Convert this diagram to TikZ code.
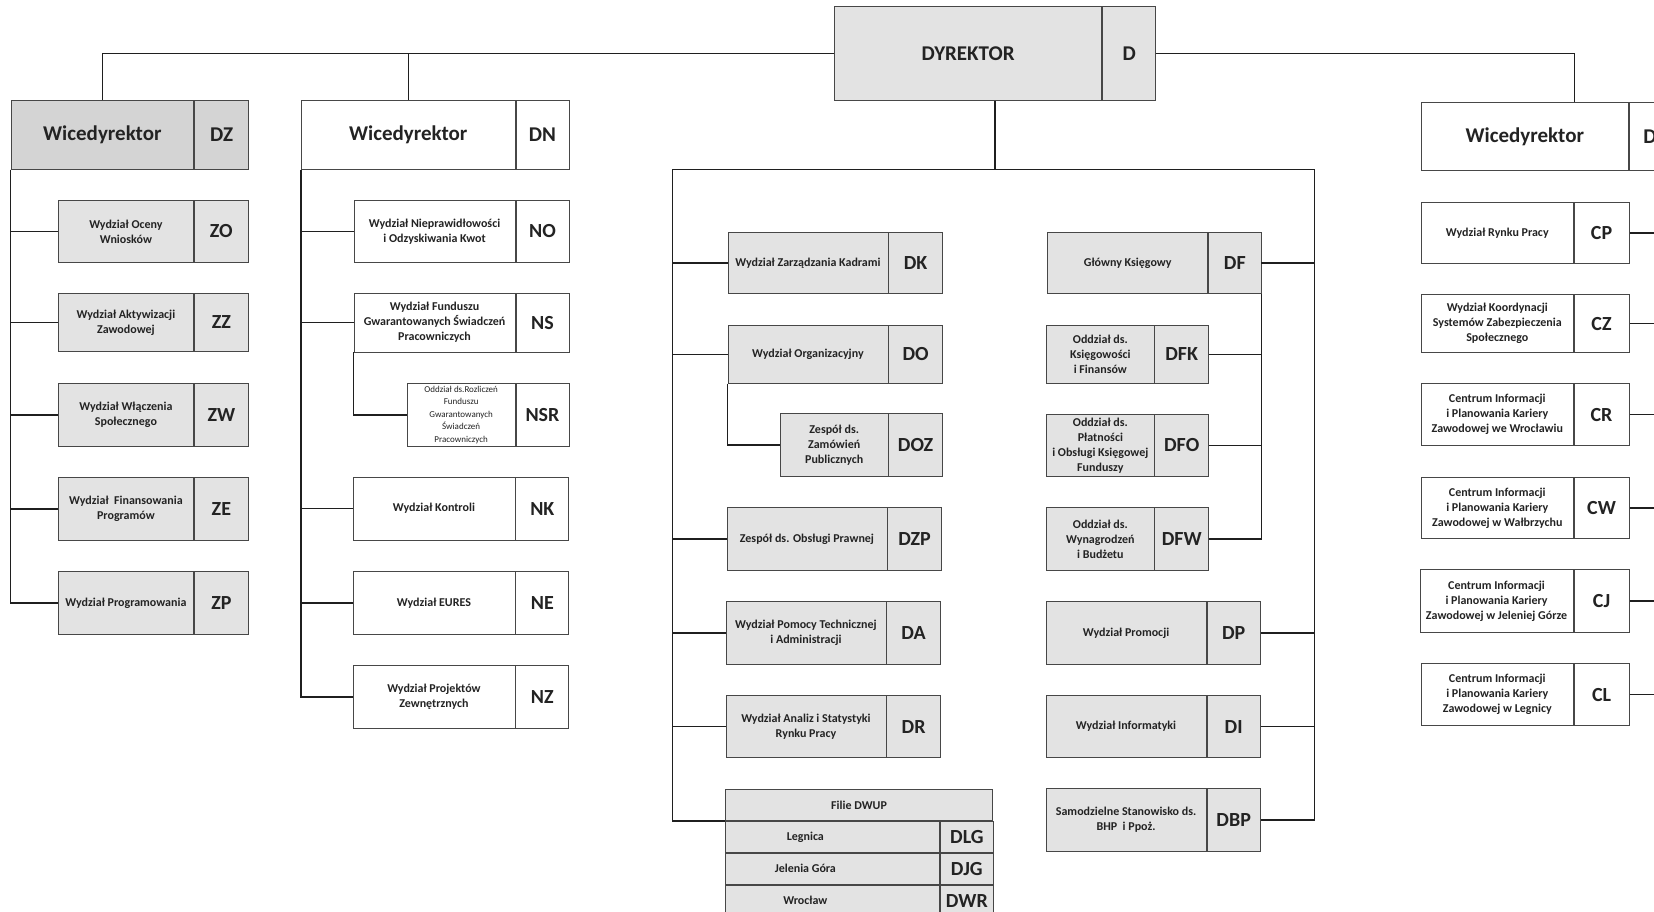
\documentclass[tikz,border=0pt]{standalone}
\usepackage{fontspec}
\setmainfont{Carlito}
\usetikzlibrary{calc}
\definecolor{boxgray}{HTML}{E3E3E3}
\definecolor{headgray}{HTML}{D4D4D4}
\definecolor{ink}{HTML}{232323}
\tikzset{
  unitcell/.style={draw=black!72, line width=0.9pt, fill=#1, anchor=north west,
    inner sep=0.5pt, align=center, text=ink, font=\bfseries\fontsize{12}{15}\selectfont},
  unitcell/.default=white,
  unitcode/.style={unitcell=#1, font=\bfseries\fontsize{20}{24}\selectfont},
  unitcode/.default=white,
  headtext/.style={font=\bfseries\fontsize{21}{25}\selectfont},
  conn/.style={draw=black!88, line width=1.3pt},
}

\begin{document}
\begin{tikzpicture}[x=1pt,y=-1pt]
 \useasboundingbox (0,0) rectangle (1654,912);
 \clip (0,0) rectangle (1654,912);
 % dyrektor
 \node[unitcell=boxgray, headtext, minimum width=267.2, minimum height=94] (dyr) at (834,6) {DYREKTOR};
 \node[unitcode=boxgray, headtext, minimum width=53.2, minimum height=94] (dyr-c) at (dyr.north east) {D};
 % wicedyrektor DZ
 \node[unitcell=headgray, headtext, minimum width=182.5, minimum height=69] (dz) at (10.7,100) {Wicedyrektor};
 \node[unitcode=headgray, headtext, minimum width=54, minimum height=69] (dz-c) at (dz.north east) {DZ};
 \node[unitcell=boxgray, minimum width=135, minimum height=62] (zo) at (58,200) {Wydział Oceny\\Wniosków};
 \node[unitcode=boxgray, minimum width=54, minimum height=62] (zo-c) at (zo.north east) {ZO};
 \node[unitcell=boxgray, minimum width=135, minimum height=58] (zz) at (58,293) {Wydział Aktywizacji\\Zawodowej};
 \node[unitcode=boxgray, minimum width=54, minimum height=58] (zz-c) at (zz.north east) {ZZ};
 \node[unitcell=boxgray, minimum width=135, minimum height=63] (zw) at (58,383) {Wydział Włączenia\\Społecznego};
 \node[unitcode=boxgray, minimum width=54, minimum height=63] (zw-c) at (zw.north east) {ZW};
 \node[unitcell=boxgray, minimum width=135, minimum height=63] (ze) at (58,477) {Wydział~ Finansowania\\Programów};
 \node[unitcode=boxgray, minimum width=54, minimum height=63] (ze-c) at (ze.north east) {ZE};
 \node[unitcell=boxgray, minimum width=135, minimum height=63] (zp) at (58,571) {Wydział Programowania};
 \node[unitcode=boxgray, minimum width=54, minimum height=63] (zp-c) at (zp.north east) {ZP};
 % wicedyrektor DN
 \node[unitcell, headtext, minimum width=213.6, minimum height=69] (dn) at (301,100) {Wicedyrektor};
 \node[unitcode, headtext, minimum width=53, minimum height=69] (dn-c) at (dn.north east) {DN};
 \node[unitcell, minimum width=161, minimum height=62] (no) at (353.6,200) {Wydział Nieprawidłowości\\i Odzyskiwania Kwot};
 \node[unitcode, minimum width=53, minimum height=62] (no-c) at (no.north east) {NO};
 \node[unitcell, minimum width=161, minimum height=58.5] (ns) at (353.6,293) {Wydział Funduszu\\Gwarantowanych Świadczeń\\Pracowniczych};
 \node[unitcode, minimum width=53, minimum height=58.5] (ns-c) at (ns.north east) {NS};
 \node[unitcell, font=\fontsize{9}{12.4}\selectfont, minimum width=107.8, minimum height=63] (nsr) at (406.8,383) {Oddział ds.Rozliczeń\\Funduszu\\Gwarantowanych\\Świadczeń\\Pracowniczych};
 \node[unitcode, minimum width=53, minimum height=63] (nsr-c) at (nsr.north east) {NSR};
 \node[unitcell, minimum width=162, minimum height=62.5] (nk) at (352.5,477) {Wydział Kontroli};
 \node[unitcode, minimum width=53, minimum height=62.5] (nk-c) at (nk.north east) {NK};
 \node[unitcell, minimum width=162, minimum height=63] (ne) at (352.5,571) {Wydział EURES};
 \node[unitcode, minimum width=53, minimum height=63] (ne-c) at (ne.north east) {NE};
 \node[unitcell, minimum width=162, minimum height=63] (nz) at (352.5,665) {Wydział Projektów\\Zewnętrznych};
 \node[unitcode, minimum width=53, minimum height=63] (nz-c) at (nz.north east) {NZ};
 % podlegle dyrektorowi, lewa kolumna
 \node[unitcell=boxgray, minimum width=160, minimum height=61.6] (dk) at (727.5,231.7) {Wydział Zarządzania Kadrami};
 \node[unitcode=boxgray, minimum width=53.5, minimum height=61.6] (dk-c) at (dk.north east) {DK};
 \node[unitcell=boxgray, minimum width=160, minimum height=57.7] (do) at (727.5,325) {Wydział Organizacyjny};
 \node[unitcode=boxgray, minimum width=53.5, minimum height=57.7] (do-c) at (do.north east) {DO};
 \node[unitcell=boxgray, minimum width=107.5, minimum height=62.4] (doz) at (780,413.3) {Zespół ds.\\Zamówień\\Publicznych};
 \node[unitcode=boxgray, minimum width=53.5, minimum height=62.4] (doz-c) at (doz.north east) {DOZ};
 \node[unitcell=boxgray, minimum width=160, minimum height=62.7] (dzp) at (726.5,507.3) {Zespół ds. Obsługi Prawnej};
 \node[unitcode=boxgray, minimum width=53.5, minimum height=62.7] (dzp-c) at (dzp.north east) {DZP};
 \node[unitcell=boxgray, minimum width=160, minimum height=63] (da) at (725.5,601) {Wydział Pomocy Technicznej\\i Administracji};
 \node[unitcode=boxgray, minimum width=53.5, minimum height=63] (da-c) at (da.north east) {DA};
 \node[unitcell=boxgray, minimum width=160, minimum height=62.3] (dr) at (725.5,695) {Wydział Analiz i Statystyki\\Rynku Pracy};
 \node[unitcode=boxgray, minimum width=53.5, minimum height=62.3] (dr-c) at (dr.north east) {DR};
 \node[unitcell=boxgray, minimum width=267.2, minimum height=31] (filie) at (725,789) {Filie DWUP};
 \node[unitcell=boxgray, minimum width=213.8, minimum height=31] (dlg) at (filie.south west) {Legnica\hspace*{54pt}};
 \node[unitcode=boxgray, minimum width=53.4, minimum height=31] (dlg-c) at (dlg.north east) {DLG};
 \node[unitcell=boxgray, minimum width=213.8, minimum height=31] (djg) at (dlg.south west) {Jelenia Góra\hspace*{54pt}};
 \node[unitcode=boxgray, minimum width=53.4, minimum height=31] (djg-c) at (djg.north east) {DJG};
 \node[unitcell=boxgray, minimum width=213.8, minimum height=31] (dwr) at (djg.south west) {Wrocław\hspace*{54pt}};
 \node[unitcode=boxgray, minimum width=53.4, minimum height=31] (dwr-c) at (dwr.north east) {DWR};
 % podlegle dyrektorowi, prawa kolumna
 \node[unitcell=boxgray, minimum width=160, minimum height=61.6] (df) at (1047.3,231.7) {Główny Księgowy};
 \node[unitcode=boxgray, minimum width=52.3, minimum height=61.6] (df-c) at (df.north east) {DF};
 \node[unitcell=boxgray, minimum width=107.2, minimum height=57.7] (dfk) at (1046.3,325) {Oddział ds.\\Księgowości\\i Finansów};
 \node[unitcode=boxgray, minimum width=53.7, minimum height=57.7] (dfk-c) at (dfk.north east) {DFK};
 \node[unitcell=boxgray, minimum width=107.2, minimum height=61.7] (dfo) at (1046.3,414) {Oddział ds.\\Płatności\\i Obsługi Księgowej\\Funduszy};
 \node[unitcode=boxgray, minimum width=53.7, minimum height=61.7] (dfo-c) at (dfo.north east) {DFO};
 \node[unitcell=boxgray, minimum width=107.2, minimum height=62.7] (dfw) at (1046.3,507.3) {Oddział ds.\\Wynagrodzeń\\i Budżetu};
 \node[unitcode=boxgray, minimum width=53.7, minimum height=62.7] (dfw-c) at (dfw.north east) {DFW};
 \node[unitcell=boxgray, minimum width=160.2, minimum height=63] (dp) at (1045.5,601) {Wydział Promocji};
 \node[unitcode=boxgray, minimum width=53.3, minimum height=63] (dp-c) at (dp.north east) {DP};
 \node[unitcell=boxgray, minimum width=160.2, minimum height=62.3] (di) at (1045.5,695) {Wydział Informatyki};
 \node[unitcode=boxgray, minimum width=53.3, minimum height=62.3] (di-c) at (di.north east) {DI};
 \node[unitcell=boxgray, minimum width=160.2, minimum height=62.4] (dbp) at (1045.5,788.3) {Samodzielne Stanowisko ds.\\BHP~ i Ppoż.};
 \node[unitcode=boxgray, minimum width=53.3, minimum height=62.4] (dbp-c) at (dbp.north east) {DBP};
 % wicedyrektor DC
 \node[unitcell, headtext, minimum width=206.7, minimum height=68.3] (dc) at (1421,101.7) {Wicedyrektor};
 \node[unitcode, headtext, minimum width=53, minimum height=68.3] (dc-c) at (dc.north east) {DC};
 \node[unitcell, minimum width=151.7, minimum height=61.6] (cp) at (1421,201.7) {Wydział Rynku Pracy};
 \node[unitcode, minimum width=55, minimum height=61.6] (cp-c) at (cp.north east) {CP};
 \node[unitcell, minimum width=151.7, minimum height=58] (cz) at (1421,294.3) {Wydział Koordynacji\\Systemów Zabezpieczenia\\Społecznego};
 \node[unitcode, minimum width=55, minimum height=58] (cz-c) at (cz.north east) {CZ};
 \node[unitcell, minimum width=151.7, minimum height=61.7] (cr) at (1421,383.3) {Centrum Informacji\\i Planowania Kariery\\Zawodowej we Wrocławiu};
 \node[unitcode, minimum width=55, minimum height=61.7] (cr-c) at (cr.north east) {CR};
 \node[unitcell, minimum width=151.7, minimum height=61.6] (cw) at (1421,476.7) {Centrum Informacji\\i Planowania Kariery\\Zawodowej w Wałbrzychu};
 \node[unitcode, minimum width=55, minimum height=61.6] (cw-c) at (cw.north east) {CW};
 \node[unitcell, minimum width=153.2, minimum height=63.3] (cj) at (1419.5,569) {Centrum Informacji\\i Planowania Kariery\\Zawodowej w Jeleniej Górze};
 \node[unitcode, minimum width=55, minimum height=63.3] (cj-c) at (cj.north east) {CJ};
 \node[unitcell, minimum width=151.7, minimum height=61.7] (cl) at (1421,663.3) {Centrum Informacji\\i Planowania Kariery\\Zawodowej w Legnicy};
 \node[unitcode, minimum width=55, minimum height=61.7] (cl-c) at (cl.north east) {CL};
 % polaczenia
 \coordinate (ctl) at (672.5,169.3);
 \coordinate (ctr) at (1314.3,169.3);
 \coordinate (cright) at (1740,170);
 \draw[conn] (dyr.west) -| (dz.north);
 \draw[conn] (dyr.west) -| (dn.north);
 \draw[conn] (dyr-c.east) -| ([xshift=-54pt]dc-c.north west);
 \draw[conn] ($(dyr.south west)!.5!(dyr-c.south east)$) coordinate (dbot) -- (dbot |- ctl);
 \draw[conn] (ctl) -- (ctr);
 \draw[conn] (dz.south west) |- (zo.west);
 \draw[conn] (dz.south west) |- (zz.west);
 \draw[conn] (dz.south west) |- (zw.west);
 \draw[conn] (dz.south west) |- (ze.west);
 \draw[conn] (dz.south west) |- (zp.west);
 \draw[conn] (dn.south west) |- (no.west);
 \draw[conn] (dn.south west) |- (ns.west);
 \draw[conn] (dn.south west) |- (nk.west);
 \draw[conn] (dn.south west) |- (ne.west);
 \draw[conn] (dn.south west) |- (nz.west);
 \draw[conn] (ns.south west) |- (nsr.west);
 \draw[conn] (ctl) |- (dk.west);
 \draw[conn] (ctl) |- (do.west);
 \draw[conn] (ctl) |- (dzp.west);
 \draw[conn] (ctl) |- (da.west);
 \draw[conn] (ctl) |- (dr.west);
 \draw[conn] (ctl) |- (filie.south west);
 \draw[conn] (do.south west) |- (doz.west);
 \draw[conn] (ctr) |- (df-c.east);
 \draw[conn] (ctr) |- (dp-c.east);
 \draw[conn] (ctr) |- (di-c.east);
 \draw[conn] (ctr) |- (dbp-c.east);
 \draw[conn] (df-c.south east) |- (dfk-c.east);
 \draw[conn] (df-c.south east) |- (dfo-c.east);
 \draw[conn] (df-c.south east) |- (dfw-c.east);
 \draw[conn] (cright) |- (cp-c.east);
 \draw[conn] (cright) |- (cz-c.east);
 \draw[conn] (cright) |- (cr-c.east);
 \draw[conn] (cright) |- (cw-c.east);
 \draw[conn] (cright) |- (cj-c.east);
 \draw[conn] (cright) |- (cl-c.east);
\end{tikzpicture}
\end{document}
